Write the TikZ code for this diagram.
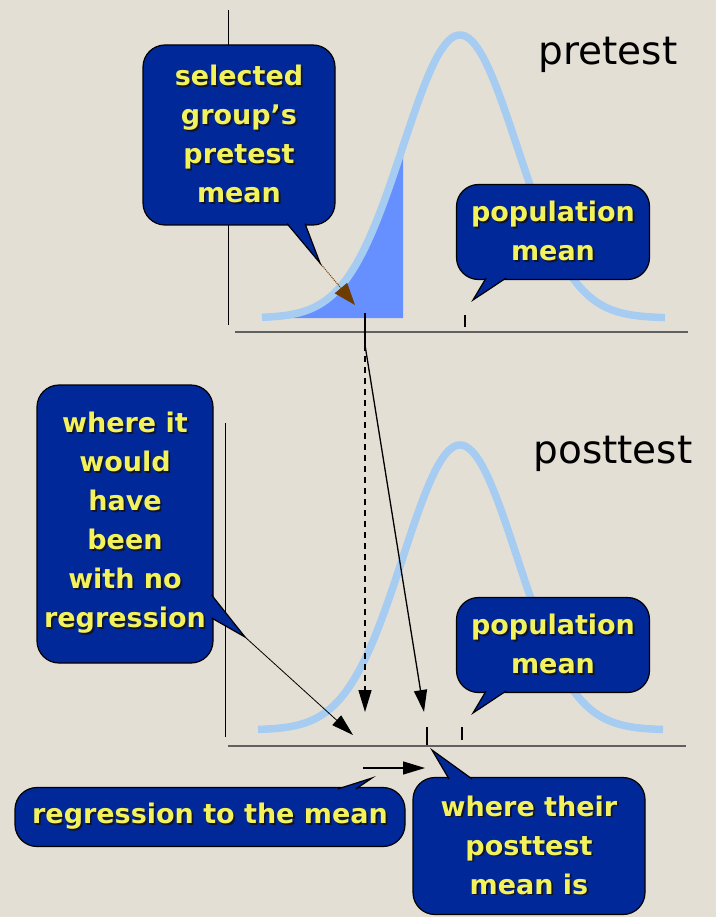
\documentclass[tikz,border=0pt]{standalone}
\usepackage{fontspec}
\setmainfont{DejaVu Sans}
\usetikzlibrary{arrows.meta,calc}
\definecolor{bg}{RGB}{228,223,213}
\definecolor{callblue}{RGB}{0,40,153}
\definecolor{calltext}{RGB}{242,242,92}
\definecolor{textshade}{RGB}{20,20,40}
\definecolor{bellblue}{RGB}{166,204,242}
\definecolor{areablue}{RGB}{102,144,255}
\definecolor{axisgray}{RGB}{96,96,96}
\definecolor{tipbrown}{RGB}{110,60,0}
\newcommand{\shtxt}[1]{\leavevmode\rlap{\kern1.8pt\raisebox{-1.8pt}{\textcolor{textshade}{#1}}}#1}
\tikzstyle{callbox}=[rectangle,rounded corners=22pt,fill=callblue,draw=black,
  line width=1.2pt,text=calltext,font=\bfseries\fontsize{27}{39}\selectfont,
  align=center,inner sep=0pt]
\tikzstyle{tailfill}=[fill=callblue]
\tikzstyle{tailline}=[line width=1.2pt,line join=miter]
\tikzstyle{testname}=[anchor=base,font=\fontsize{39}{46}\selectfont]
\tikzstyle{bellline}=[bellblue,line width=7.5pt]
\tikzstyle{bigtip}=[-{Triangle[length=22pt,width=13pt]}]
\tikzstyle{none}=[]

\begin{document}
\begin{tikzpicture}[x=1pt,y=-1pt]
            \fill[bg] (0,0) rectangle (716,917);
            \useasboundingbox (0,0) rectangle (716,917);
            % pretest panel
            \fill[areablue] plot[domain=285:403,samples=60] (\x,{318-283*exp(-((\x-460)/57)^2/2)})
              -- (403,318) -- (285,318) -- cycle;
            \draw[bellline] plot[domain=262:665,samples=120] (\x,{318-283*exp(-((\x-460)/57)^2/2)});
            \draw[line width=1pt] (228,10) -- (228,325);
            \draw[axisgray,line width=2pt] (235,332) -- (688,332);
            \node [style=testname] (pre) at (608,65) {pretest};
            % posttest panel
            \draw[bellline] plot[domain=258:663,samples=120] (\x,{730-285*exp(-((\x-460)/57)^2/2)});
            \draw[line width=1pt] (225,423) -- (225,737);
            \draw[axisgray,line width=2pt] (228,746) -- (686,746);
            \node [style=testname] (post) at (613,463) {posttest};
            % means
            \coordinate (preMean) at (365,313);
            \coordinate (preMeanLow) at (365,345);
            \coordinate (prePop) at (465,315);
            \coordinate (prePopLow) at (465,327);
            \coordinate (postMean) at (427,727);
            \coordinate (postMeanLow) at (427,745);
            \coordinate (postPop) at (462,727);
            \coordinate (postPopLow) at (462,740);
            \coordinate (noRegTip) at (365,712);
            \coordinate (postTip) at (424,712);
            \coordinate (nrTip) at (353,735);
            \coordinate (shiftA) at (363,768);
            \coordinate (shiftB) at (425,768);
            \coordinate (selPt) at (320,263);
            \coordinate (areaPt) at (355,305);
            \coordinate (popPtA) at (473,300);
            \coordinate (popPtB) at (473,713);
            \coordinate (nrPt) at (245,637);
            \coordinate (regPt) at (372,778);
            \coordinate (postPt) at (432,750);
            \draw[line width=1.5pt] (preMean) -- (preMeanLow);
            \draw[line width=1.5pt] (prePop) -- (prePopLow);
            \draw[line width=1.5pt] (postMean) -- (postMeanLow);
            \draw[line width=1.5pt] (postPop) -- (postPopLow);
            % arrows
            \draw[bigtip,line width=1.3pt,dash pattern=on 6pt off 5pt] (preMeanLow) -- (noRegTip);
            \draw[bigtip,line width=1.3pt] (preMeanLow) -- (postTip);
            \draw[bigtip,line width=0.8pt] (nrPt) -- (nrTip);
            \draw[bigtip,line width=1.3pt] (shiftA) -- (shiftB);
            \draw[tipbrown,line width=1pt,densely dotted,-{Triangle[length=22pt,width=16pt]}] (selPt) -- (areaPt);
            % callouts
            \node [style=callbox,minimum width=192pt,minimum height=180pt] (sel) at (239,135)
              {\shtxt{selected}\\\shtxt{group’s}\\\shtxt{pretest}\\\shtxt{mean}};
            \node [style=callbox,minimum width=193pt,minimum height=95pt] (popA) at (553,232)
              {\shtxt{population}\\\shtxt{mean}};
            \node [style=callbox,minimum width=176pt,minimum height=278pt] (noReg) at (125,524)
              {\shtxt{where it}\\\shtxt{would}\\\shtxt{have}\\\shtxt{been}\\\shtxt{with no}\\\shtxt{regression}};
            \node [style=callbox,minimum width=193pt,minimum height=95pt] (popB) at (553,645)
              {\shtxt{population}\\\shtxt{mean}};
            \node [style=callbox,minimum width=390pt,minimum height=59pt] (reg) at (210,817)
              {\shtxt{regression to the mean}};
            \node [style=callbox,minimum width=232pt,minimum height=137pt] (postM) at (529,846)
              {\shtxt{where their}\\\shtxt{posttest}\\\shtxt{mean is}};
            % tails
            \fill[style=tailfill] ($(sel.south)+(48,-2)$) -- (selPt) -- ($(sel.south)+(66,-2)$) -- cycle;
            \draw[style=tailline] ($(sel.south)+(48,-2)$) -- (selPt) -- ($(sel.south)+(66,-2)$);
            \fill[style=tailfill] ($(popA.south)+(-67,-2)$) -- (popPtA) -- ($(popA.south)+(-47,-2)$) -- cycle;
            \draw[style=tailline] ($(popA.south)+(-67,-2)$) -- (popPtA) -- ($(popA.south)+(-47,-2)$);
            \fill[style=tailfill] ($(noReg.east)+(-2,71)$) -- (nrPt) -- ($(noReg.east)+(-2,94)$) -- cycle;
            \draw[style=tailline] ($(noReg.east)+(-2,71)$) -- (nrPt) -- ($(noReg.east)+(-2,94)$);
            \fill[style=tailfill] ($(popB.south)+(-67,-2)$) -- (popPtB) -- ($(popB.south)+(-47,-2)$) -- cycle;
            \draw[style=tailline] ($(popB.south)+(-67,-2)$) -- (popPtB) -- ($(popB.south)+(-47,-2)$);
            \fill[style=tailfill] ($(reg.north)+(128,2)$) -- (regPt) -- ($(reg.north)+(146,2)$) -- cycle;
            \draw[style=tailline] ($(reg.north)+(128,2)$) -- (regPt) -- ($(reg.north)+(146,2)$);
            \fill[style=tailfill] ($(postM.north)+(-80,2)$) -- (postPt) -- ($(postM.north)+(-57,2)$) -- cycle;
            \draw[style=tailline] ($(postM.north)+(-80,2)$) -- (postPt) -- ($(postM.north)+(-57,2)$);
    \end{tikzpicture}
\end{document}
